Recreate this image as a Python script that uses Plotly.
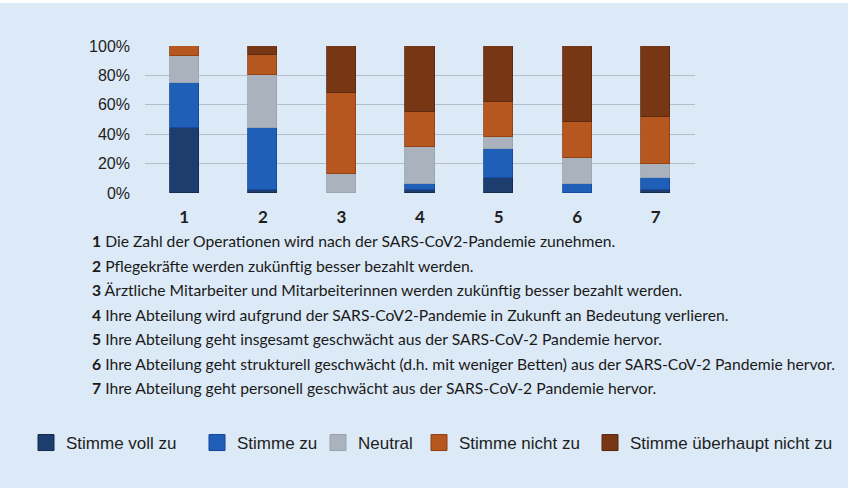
import plotly.graph_objects as go

categories = ["1", "2", "3", "4", "5", "6", "7"]
series_names = ["Stimme voll zu", "Stimme zu", "Neutral", "Stimme nicht zu", "Stimme überhaupt nicht zu"]
voll_zu = [44, 2, 0, 2, 10, 0, 2]
zu = [31, 42, 0, 4, 20, 6, 8]
neutral = [18, 36, 13, 25, 8, 18, 10]
nicht_zu = [7, 14, 55, 24, 24, 24, 32]
ueberhaupt_nicht = [0, 6, 32, 45, 38, 52, 48]
y_ticks = [0, 20, 40, 60, 80, 100]
y_ticktext = ["0%", "20%", "40%", "60%", "80%", "100%"]
statements = [
    "Die Zahl der Operationen wird nach der SARS-CoV2-Pandemie zunehmen.",
    "Pflegekräfte werden zukünftig besser bezahlt werden.",
    "Ärztliche Mitarbeiter und Mitarbeiterinnen werden zukünftig besser bezahlt werden.",
    "Ihre Abteilung wird aufgrund der SARS-CoV2-Pandemie in Zukunft an Bedeutung verlieren.",
    "Ihre Abteilung geht insgesamt geschwächt aus der SARS-CoV-2 Pandemie hervor.",
    "Ihre Abteilung geht strukturell geschwächt (d.h. mit weniger Betten) aus der SARS-CoV-2 Pandemie hervor.",
    "Ihre Abteilung geht personell geschwächt aus der SARS-CoV-2 Pandemie hervor.",
]

colors = ["#1c3d6e", "#1f5fb8", "#aab3bd", "#b5571f", "#783714"]
edge = ["#12284a", "#15439a", "#98a2ac", "#8f3f12", "#5a260c"]

W, H = 855, 492
L, R, T, B = 145, 695, 46, 193  # plot area in pixels

def px(x):
    return (x - L) / (R - L)

def py(y):
    return (B - y) / (B - T)

legend_left = [26, 197, 318, 419, 590]
legend_ids = ["legend", "legend2", "legend3", "legend4", "legend5"]

fig = go.Figure()
values = [voll_zu, zu, neutral, nicht_zu, ueberhaupt_nicht]
xs = list(range(1, len(categories) + 1))
for name, vals, c, e, lid in zip(series_names, values, colors, edge, legend_ids):
    fig.add_trace(go.Bar(
        x=xs, y=vals, name=name, width=0.37,
        marker=dict(color=c, line=dict(color=e, width=0.8)),
        showlegend=False,
    ))
    fig.add_trace(go.Scatter(
        x=[None], y=[None], mode="markers", name=name, legend=lid,
        marker=dict(symbol="square", size=18, color=c, line=dict(color=e, width=1)),
        showlegend=True,
    ))

annotations = []
line_y = [241, 265.5, 290, 314.5, 339, 363.5, 388]
for i, (s, yy) in enumerate(zip(statements, line_y)):
    annotations.append(dict(
        xref="paper", yref="paper", x=px(90), y=py(yy),
        xanchor="left", yanchor="middle", showarrow=False,
        text=f"<b>{categories[i]}</b> {s}",
        font=dict(family="Lato", size=15.7, color="#1a1a1a"),
    ))

shapes = [dict(
    type="rect", xref="paper", yref="paper", layer="below",
    x0=px(-2), x1=px(848), y0=py(488), y1=py(3),
    fillcolor="#dce9f6", line=dict(width=0),
)]

legend_style = dict(
    orientation="h", y=py(443), xanchor="left", yanchor="middle",
    font=dict(family="Liberation Sans", size=17, color="#1e1e1e"),
    bgcolor="rgba(0,0,0,0)", itemsizing="trace", tracegroupgap=0,
)
legends = {lid: dict(legend_style, x=px(xl)) for lid, xl in zip(legend_ids, legend_left)}

fig.update_layout(
    width=W, height=H,
    margin=dict(l=L, r=W - R, t=T, b=H - B, pad=0, autoexpand=False),
    paper_bgcolor="#ffffff",
    plot_bgcolor="rgba(0,0,0,0)",
    barmode="stack",
    bargap=0,
    xaxis=dict(
        range=[0.5, 7.5], tickvals=xs, ticktext=[f"<b>{c}</b>" for c in categories],
        showgrid=False, zeroline=False, showline=False, ticks="",
        tickfont=dict(family="Lato", size=17, color="#1e1e1e"),
        ticklabelstandoff=12,
    ),
    yaxis=dict(
        range=[0, 100], tickvals=y_ticks, ticktext=y_ticktext,
        showgrid=True, gridcolor="#b4bec9", gridwidth=1,
        zeroline=False, showline=False, ticks="",
        tickfont=dict(family="Liberation Sans", size=16, color="#1e1e1e"),
        ticklabelstandoff=14,
    ),
    annotations=annotations,
    shapes=shapes,
    **legends,
)

fig.write_html(
    "out.html",
    config={"displayModeBar": False},
    post_script="document.body.style.margin='0px';",
)
